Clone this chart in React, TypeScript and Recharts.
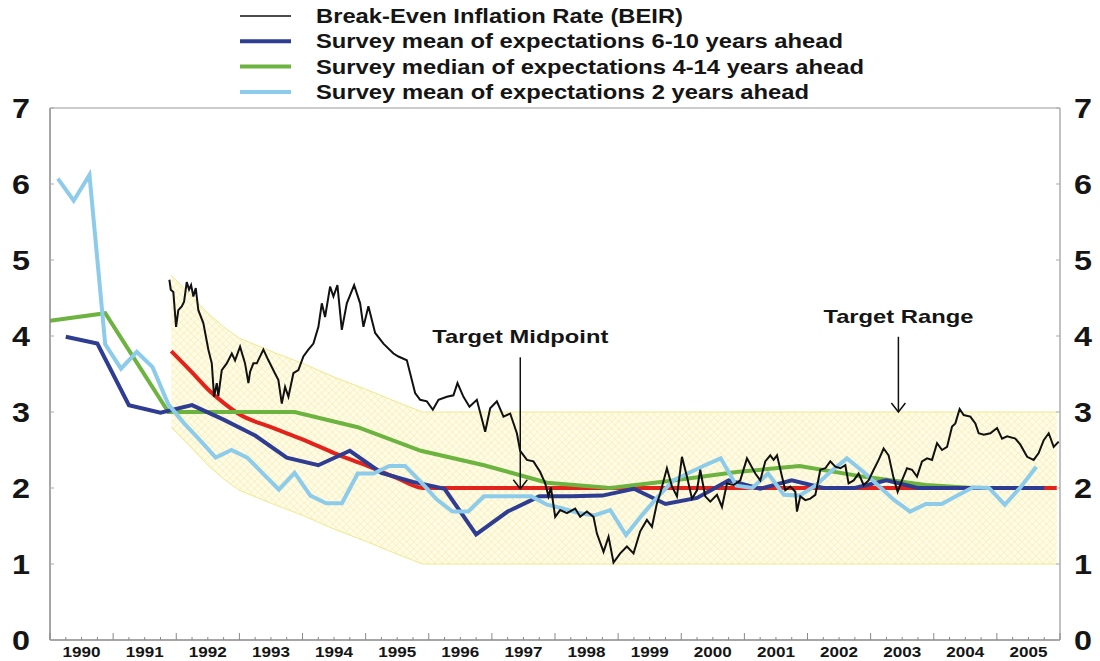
import React from "react";
import {
  ComposedChart,
  Line,
  Area,
  XAxis,
  YAxis,
  ReferenceLine,
  Legend,
} from "recharts";

const FONT = "'Liberation Sans', Arial, sans-serif";

const YEARS = [1990, 1991, 1992, 1993, 1994, 1995, 1996, 1997, 1998, 1999, 2000, 2001, 2002, 2003, 2004, 2005];
const Y_TICKS = [0, 1, 2, 3, 4, 5, 6, 7];

// [year, %]
const BEIR: [number, number][] = [
  [1991.891, 4.74], [1991.913, 4.61], [1991.954, 4.58], [1991.997, 4.12], [1992.033, 4.34],
  [1992.087, 4.39], [1992.124, 4.45], [1992.166, 4.71], [1992.203, 4.61], [1992.235, 4.67],
  [1992.271, 4.52], [1992.309, 4.63], [1992.35, 4.34], [1992.429, 4.17], [1992.509, 3.82],
  [1992.563, 3.64], [1992.599, 3.2], [1992.642, 3.38], [1992.667, 3.21], [1992.721, 3.55],
  [1992.8, 3.64], [1992.88, 3.77], [1992.932, 3.68], [1993.011, 3.86], [1993.09, 3.64],
  [1993.143, 3.38], [1993.17, 3.53], [1993.222, 3.64], [1993.276, 3.64], [1993.38, 3.82],
  [1993.46, 3.68], [1993.539, 3.55], [1993.618, 3.42], [1993.672, 3.11], [1993.724, 3.33],
  [1993.777, 3.2], [1993.856, 3.51], [1993.935, 3.55], [1994.014, 3.73], [1994.093, 3.82],
  [1994.173, 3.9], [1994.252, 4.12], [1994.306, 4.43], [1994.358, 4.25], [1994.437, 4.65],
  [1994.49, 4.52], [1994.553, 4.67], [1994.623, 4.08], [1994.702, 4.43], [1994.818, 4.67],
  [1994.913, 4.43], [1994.965, 4.12], [1995.044, 4.39], [1995.151, 4.04], [1995.282, 3.9],
  [1995.441, 3.77], [1995.52, 3.73], [1995.653, 3.68], [1995.732, 3.42], [1995.784, 3.25],
  [1995.864, 3.16], [1995.97, 3.14], [1996.065, 3.03], [1996.154, 3.16], [1996.287, 3.2],
  [1996.391, 3.22], [1996.455, 3.38], [1996.55, 3.2], [1996.645, 3.07], [1996.762, 3.16],
  [1996.894, 2.74], [1996.973, 3.05], [1997.079, 3.14], [1997.184, 2.94], [1997.29, 2.98],
  [1997.396, 2.72], [1997.448, 2.49], [1997.555, 2.37], [1997.659, 2.35], [1997.765, 2.21],
  [1997.845, 2.06], [1997.897, 1.89], [1997.935, 2.01], [1998.003, 1.62], [1998.082, 1.71],
  [1998.189, 1.67], [1998.32, 1.73], [1998.399, 1.62], [1998.505, 1.69], [1998.61, 1.62],
  [1998.664, 1.4], [1998.769, 1.16], [1998.848, 1.36], [1998.927, 1.02], [1999.033, 1.14],
  [1999.139, 1.23], [1999.244, 1.14], [1999.35, 1.43], [1999.456, 1.58], [1999.536, 1.49],
  [1999.615, 1.8], [1999.667, 1.93], [1999.773, 2.26], [1999.853, 2.02], [1999.932, 1.89],
  [2000.011, 2.41], [2000.09, 2.15], [2000.17, 1.86], [2000.249, 1.97], [2000.301, 2.24],
  [2000.38, 1.89], [2000.46, 1.82], [2000.566, 1.91], [2000.645, 1.75], [2000.724, 2.06],
  [2000.829, 2.04], [2000.935, 2.1], [2001.041, 2.39], [2001.173, 2.19], [2001.252, 2.1],
  [2001.331, 2.35], [2001.41, 2.43], [2001.463, 2.37], [2001.517, 2.43], [2001.596, 2.15],
  [2001.648, 1.97], [2001.727, 2.02], [2001.807, 1.95], [2001.833, 1.69], [2001.886, 1.89],
  [2001.965, 1.84], [2002.044, 1.86], [2002.124, 1.91], [2002.203, 2.24], [2002.282, 2.26],
  [2002.361, 2.35], [2002.441, 2.28], [2002.52, 2.26], [2002.599, 2.3], [2002.651, 2.06],
  [2002.731, 2.1], [2002.81, 2.19], [2002.889, 2.04], [2002.968, 2.1], [2003.048, 2.24],
  [2003.127, 2.37], [2003.206, 2.52], [2003.285, 2.43], [2003.364, 2.13], [2003.428, 1.95],
  [2003.497, 2.1], [2003.577, 2.26], [2003.656, 2.24], [2003.735, 2.15], [2003.814, 2.35],
  [2003.894, 2.39], [2003.973, 2.37], [2004.052, 2.59], [2004.131, 2.5], [2004.211, 2.54],
  [2004.29, 2.81], [2004.342, 2.85], [2004.41, 3.04], [2004.474, 2.96], [2004.58, 2.94],
  [2004.659, 2.85], [2004.712, 2.72], [2004.791, 2.7], [2004.897, 2.72], [2005.003, 2.79],
  [2005.082, 2.65], [2005.162, 2.68], [2005.293, 2.65], [2005.372, 2.57], [2005.479, 2.41],
  [2005.583, 2.37], [2005.662, 2.46], [2005.742, 2.63], [2005.821, 2.72], [2005.9, 2.54],
  [2005.979, 2.61],
];

const MEAN_6_10: [number, number][] = [
  [1990.25, 3.99], [1990.75, 3.9], [1991.25, 3.09], [1991.75, 2.99], [1992.25, 3.09],
  [1992.75, 2.9], [1993.25, 2.69], [1993.75, 2.4], [1994.25, 2.3], [1994.75, 2.49],
  [1995.25, 2.2], [1995.75, 2.08], [1996.25, 1.99], [1996.75, 1.39], [1997.25, 1.69],
  [1997.75, 1.89], [1998.25, 1.89], [1998.75, 1.9], [1999.25, 1.99], [1999.75, 1.79],
  [2000.25, 1.87], [2000.75, 2.1], [2001.25, 1.99], [2001.75, 2.1], [2002.25, 2.0],
  [2002.75, 2.0], [2003.25, 2.1], [2003.75, 2.0], [2004.25, 2.0], [2004.75, 2.0],
  [2005.25, 2.0], [2005.75, 2.0],
];

const MEDIAN_4_14: [number, number][] = [
  [1990.0, 4.2], [1990.875, 4.3], [1991.875, 3.0], [1992.875, 3.0], [1993.875, 3.0],
  [1994.875, 2.8], [1995.875, 2.49], [1996.875, 2.3], [1997.875, 2.07], [1998.875, 2.0],
  [1999.875, 2.1], [2000.875, 2.21], [2001.875, 2.29], [2002.875, 2.15], [2003.875, 2.04],
  [2004.625, 2.0],
];

const MEAN_2Y: [number, number][] = [
  [1990.125, 6.07], [1990.375, 5.78], [1990.625, 6.12], [1990.875, 3.89], [1991.125, 3.57],
  [1991.375, 3.79], [1991.625, 3.59], [1991.875, 3.1], [1992.125, 2.85], [1992.375, 2.63],
  [1992.625, 2.4], [1992.875, 2.5], [1993.125, 2.4], [1993.375, 2.19], [1993.625, 1.98],
  [1993.875, 2.2], [1994.125, 1.9], [1994.375, 1.8], [1994.625, 1.8], [1994.875, 2.19],
  [1995.125, 2.19], [1995.375, 2.29], [1995.625, 2.29], [1995.875, 2.08], [1996.125, 1.85],
  [1996.375, 1.69], [1996.625, 1.69], [1996.875, 1.89], [1997.125, 1.89], [1997.375, 1.89],
  [1997.625, 1.89], [1997.875, 1.78], [1998.125, 1.73], [1998.375, 1.67], [1998.625, 1.64],
  [1998.875, 1.71], [1999.125, 1.38], [1999.375, 1.64], [1999.625, 1.88], [1999.875, 2.1],
  [2000.125, 2.2], [2000.375, 2.3], [2000.625, 2.39], [2000.875, 2.03], [2001.125, 2.0],
  [2001.375, 2.19], [2001.625, 1.91], [2001.875, 1.9], [2002.125, 2.03], [2002.375, 2.22],
  [2002.625, 2.39], [2002.875, 2.22], [2003.125, 2.03], [2003.375, 1.84], [2003.625, 1.69],
  [2003.875, 1.79], [2004.125, 1.79], [2004.375, 1.9], [2004.625, 2.01], [2004.875, 2.0],
  [2005.125, 1.78], [2005.375, 2.01], [2005.625, 2.28],
];

const TARGET_MID: [number, number][] = [
  [1991.92, 3.8], [1992.25, 3.52], [1992.5, 3.3], [1992.75, 3.12], [1993.0, 2.97],
  [1993.5, 2.8], [1994.0, 2.64], [1994.5, 2.46], [1995.0, 2.3], [1995.5, 2.13],
  [1995.9, 2.0], [2005.95, 2.0],
];

// target band: [year, low, high]
const TARGET_RANGE: [number, number, number][] = [
  [1991.92, 2.8, 4.8], [1992.25, 2.52, 4.52], [1992.5, 2.3, 4.3], [1992.75, 2.12, 4.12],
  [1993.0, 1.97, 3.97], [1993.5, 1.8, 3.8], [1994.0, 1.64, 3.64], [1994.5, 1.46, 3.46],
  [1995.0, 1.3, 3.3], [1995.5, 1.13, 3.13], [1995.9, 1.0, 3.0], [2005.95, 1.0, 3.0],
];

const toPts = (arr: [number, number][]) => arr.map(([t, v]) => ({ t, v }));
const beirData = toPts(BEIR);
const mean610Data = toPts(MEAN_6_10);
const median414Data = toPts(MEDIAN_4_14);
const mean2Data = toPts(MEAN_2Y);
const midData = toPts(TARGET_MID);
const bandData = TARGET_RANGE.map(([t, lo, hi]) => ({ t, range: [lo, hi] }));

const quarterTicks = YEARS.flatMap((y) => [y, y + 0.25, y + 0.5, y + 0.75]).concat([2006]);

const LEGEND = [
  { label: "Break-Even Inflation Rate (BEIR)", color: "#111111", width: 1.5, len: 367 },
  { label: "Survey mean of expectations 6-10 years ahead", color: "#2e3d91", width: 4, len: 527 },
  { label: "Survey median of expectations 4-14 years ahead", color: "#6cb33f", width: 4, len: 548 },
  { label: "Survey mean of expectations 2 years ahead", color: "#8dcbea", width: 4, len: 493 },
];

const XTick = (props: any) => {
  const { x, y, payload } = props;
  const v = payload.value as number;
  const frac = v - Math.floor(v);
  const major = frac < 1e-6;
  const isMid = Math.abs(frac - 0.5) < 1e-6;
  return (
    <g>
      <line x1={x} x2={x} y1={y} y2={y - (major ? 7 : 3)} stroke="#888" strokeWidth={1} />
      {isMid && (
        <text
          x={x}
          y={y + 17}
          textAnchor="middle"
          fontFamily={FONT}
          fontWeight="bold"
          fontSize={15.5}
          fill="#151515"
          textLength={38}
          lengthAdjust="spacingAndGlyphs"
        >
          {Math.floor(v)}
        </text>
      )}
    </g>
  );
};

const YTick = (side: "left" | "right") => (props: any) => {
  const { x, y, payload } = props;
  const dir = side === "left" ? 1 : -1;
  const tx = side === "left" ? x - 29 : x + 23;
  return (
    <g>
      <line x1={x} x2={x + dir * 4} y1={y} y2={y} stroke="#aaa" strokeWidth={1} />
      <text
        x={tx}
        y={y + 10}
        textAnchor="middle"
        fontFamily={FONT}
        fontWeight="bold"
        fontSize={28}
        fill="#151515"
        textLength={18}
        lengthAdjust="spacingAndGlyphs"
      >
        {payload.value}
      </text>
    </g>
  );
};

const arrowShape = (label: string, textLen: number) => (props: any) => {
  const { x1, y1, x2, y2 } = props;
  return (
    <g>
      <text
        x={x1}
        y={y1 - 14}
        textAnchor="middle"
        fontFamily={FONT}
        fontWeight="bold"
        fontSize={19}
        fill="#151515"
        textLength={textLen}
        lengthAdjust="spacingAndGlyphs"
      >
        {label}
      </text>
      <line x1={x1} y1={y1} x2={x2} y2={y2} stroke="#111" strokeWidth={1.5} />
      <polyline
        points={`${x2 - 7},${y2 - 9} ${x2},${y2} ${x2 + 7},${y2 - 9}`}
        fill="none"
        stroke="#111"
        strokeWidth={1.5}
      />
    </g>
  );
};

const renderLegend = () => (
  <svg width={1100} height={105}>
    {LEGEND.map((d, i) => {
      const cy = 16 + i * 25.3;
      return (
        <g key={d.label}>
          <line x1={240} x2={291} y1={cy} y2={cy} stroke={d.color} strokeWidth={d.width} />
          <text
            x={316}
            y={cy + 7}
            fontFamily={FONT}
            fontWeight="bold"
            fontSize={19.5}
            fill="#151515"
            textLength={d.len}
            lengthAdjust="spacingAndGlyphs"
          >
            {d.label}
          </text>
        </g>
      );
    })}
  </svg>
);

export default function App() {
  return (
    <div style={{ position: "absolute", left: 0, top: 0, width: 1100, height: 661, background: "#fff" }}>
      <svg width={0} height={0} style={{ position: "absolute" }}>
        <defs>
          <pattern id="hatch" width={5} height={5} patternUnits="userSpaceOnUse" patternTransform="rotate(45)">
            <rect width={5} height={5} fill="#fefce8" />
            <line x1={0} y1={0} x2={0} y2={5} stroke="#f5eaa2" strokeWidth={1} />
            <line x1={0} y1={0} x2={5} y2={0} stroke="#f5eaa2" strokeWidth={1} />
          </pattern>
        </defs>
      </svg>
      <ComposedChart width={1100} height={661} margin={{ top: 108, right: 0, bottom: 0, left: 0 }}>
        <XAxis
          dataKey="t"
          type="number"
          domain={[1990, 2006]}
          ticks={quarterTicks}
          interval={0}
          allowDataOverflow
          height={21}
          tickSize={0}
          tickMargin={0}
          tickLine={false}
          axisLine={{ stroke: "#888", strokeWidth: 1.5 }}
          tick={XTick}
        />
        <YAxis
          yAxisId="l"
          orientation="left"
          width={50}
          domain={[0, 7]}
          ticks={Y_TICKS}
          interval={0}
          tickSize={0}
          tickMargin={0}
          tickLine={false}
          axisLine={{ stroke: "#888", strokeWidth: 1.5 }}
          tick={YTick("left")}
        />
        <YAxis
          yAxisId="r"
          orientation="right"
          width={40}
          domain={[0, 7]}
          ticks={Y_TICKS}
          interval={0}
          tickSize={0}
          tickMargin={0}
          tickLine={false}
          axisLine={{ stroke: "#999", strokeWidth: 1.2 }}
          tick={YTick("right")}
        />
        <ReferenceLine yAxisId="l" y={7} stroke="#999" strokeWidth={1.2} />
        <Legend
          layout="horizontal"
          verticalAlign="middle"
          align="center"
          content={renderLegend}
          wrapperStyle={{ top: 0, left: 0, width: 1100, height: 105 }}
        />
        <Area
          yAxisId="l"
          data={bandData}
          dataKey="range"
          type="linear"
          stroke="#efe98e"
          strokeWidth={1}
          fill="url(#hatch)"
          fillOpacity={1}
          isAnimationActive={false}
          legendType="none"
        />
        <Line yAxisId="l" data={midData} dataKey="v" type="monotone" stroke="#e3231b" strokeWidth={4} dot={false} isAnimationActive={false} />
        <Line yAxisId="l" data={median414Data} dataKey="v" type="linear" stroke="#6cb33f" strokeWidth={4} dot={false} isAnimationActive={false} />
        <Line yAxisId="l" data={mean610Data} dataKey="v" type="linear" stroke="#2e3d91" strokeWidth={4} dot={false} isAnimationActive={false} />
        <Line yAxisId="l" data={mean2Data} dataKey="v" type="linear" stroke="#8dcbea" strokeWidth={4} dot={false} isAnimationActive={false} />
        {/* BEIR drawn against the right axis (same 0-7 scale) */}
        <Line yAxisId="r" data={beirData} dataKey="v" type="linear" stroke="#111111" strokeWidth={2} dot={false} isAnimationActive={false} />
        <ReferenceLine
          yAxisId="l"
          segment={[{ x: 1997.45, y: 3.72 }, { x: 1997.45, y: 1.99 }]}
          shape={arrowShape("Target Midpoint", 176)}
        />
        <ReferenceLine
          yAxisId="l"
          segment={[{ x: 2003.44, y: 3.99 }, { x: 2003.44, y: 3.0 }]}
          shape={arrowShape("Target Range", 150)}
        />
      </ComposedChart>
    </div>
  );
}
